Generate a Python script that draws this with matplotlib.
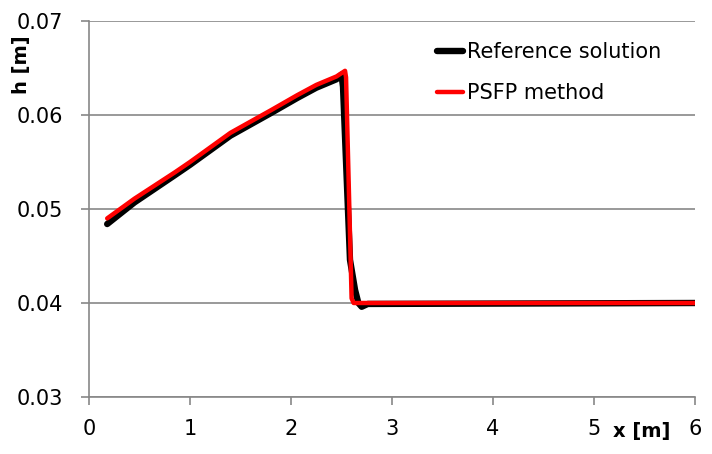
import matplotlib.pyplot as plt

# ── data ─────────────────────────────────────────
ref_x = [0.18, 0.45, 0.85, 1.00, 1.40, 1.55, 1.80, 2.06, 2.25, 2.45, 2.50,
         2.515, 2.584, 2.634, 2.667, 2.70, 2.76, 6.00]
ref_h = [0.0484, 0.0507, 0.0536, 0.0547, 0.0578, 0.0587, 0.0602, 0.0618, 0.0629, 0.0638, 0.0643,
         0.0630, 0.0446, 0.0414, 0.0400, 0.0396, 0.0399, 0.0400]

psfp_x = [0.18, 0.45, 0.85, 1.00, 1.40, 1.55, 1.80, 2.06, 2.25, 2.45, 2.535,
          2.545, 2.60, 2.62, 6.00]
psfp_h = [0.0490, 0.0511, 0.0539, 0.0550, 0.0581, 0.0590, 0.0605, 0.0621, 0.0632, 0.0641, 0.0647,
          0.0640, 0.0405, 0.0400, 0.0400]

grid_col = "#878787"

fig = plt.figure(figsize=(7.12, 4.54), dpi=100)
ax = fig.add_axes([89 / 712, 57 / 454, 606 / 712, 376 / 454])

ax.plot(ref_x, ref_h, color="black", linewidth=4.6, label="Reference solution",
        solid_capstyle="round", solid_joinstyle="round", zorder=3)
ax.plot(psfp_x, psfp_h, color="#ff0000", linewidth=3.2, label="PSFP method",
        solid_capstyle="round", solid_joinstyle="round", zorder=4)

ax.set_xlim(0, 6)
ax.set_ylim(0.03, 0.07)
ax.set_xticks([0, 1, 2, 3, 4, 5, 6])
ax.set_yticks([0.03, 0.04, 0.05, 0.06, 0.07])
ax.set_yticklabels(["0.03", "0.04", "0.05", "0.06", "0.07"])

ax.yaxis.grid(True, color=grid_col, linewidth=1.2)
ax.set_axisbelow(True)
for side in ["top", "right"]:
    ax.spines[side].set_visible(False)
for side in ["left", "bottom"]:
    ax.spines[side].set_color(grid_col)
    ax.spines[side].set_linewidth(1.2)
ax.tick_params(axis="both", direction="out", length=5.8, width=1.2, color=grid_col,
               labelsize=15)
ax.tick_params(axis="x", pad=10)
ax.tick_params(axis="y", pad=13)

fig.text(22 / 712, 1 - 65 / 454, "h [m]", rotation=90, ha="center", va="center",
         fontsize=14, fontweight="bold")
fig.text(642 / 712, 1 - 432 / 454, "x [m]", ha="center", va="center",
         fontsize=14, fontweight="bold")

leg = ax.legend(loc="upper left", bbox_to_anchor=(0.5575, 0.971), frameon=False,
                fontsize=15, borderpad=0, handlelength=1.25, handletextpad=0.2,
                labelspacing=1.0)

fig.savefig("out.png", dpi=100)
